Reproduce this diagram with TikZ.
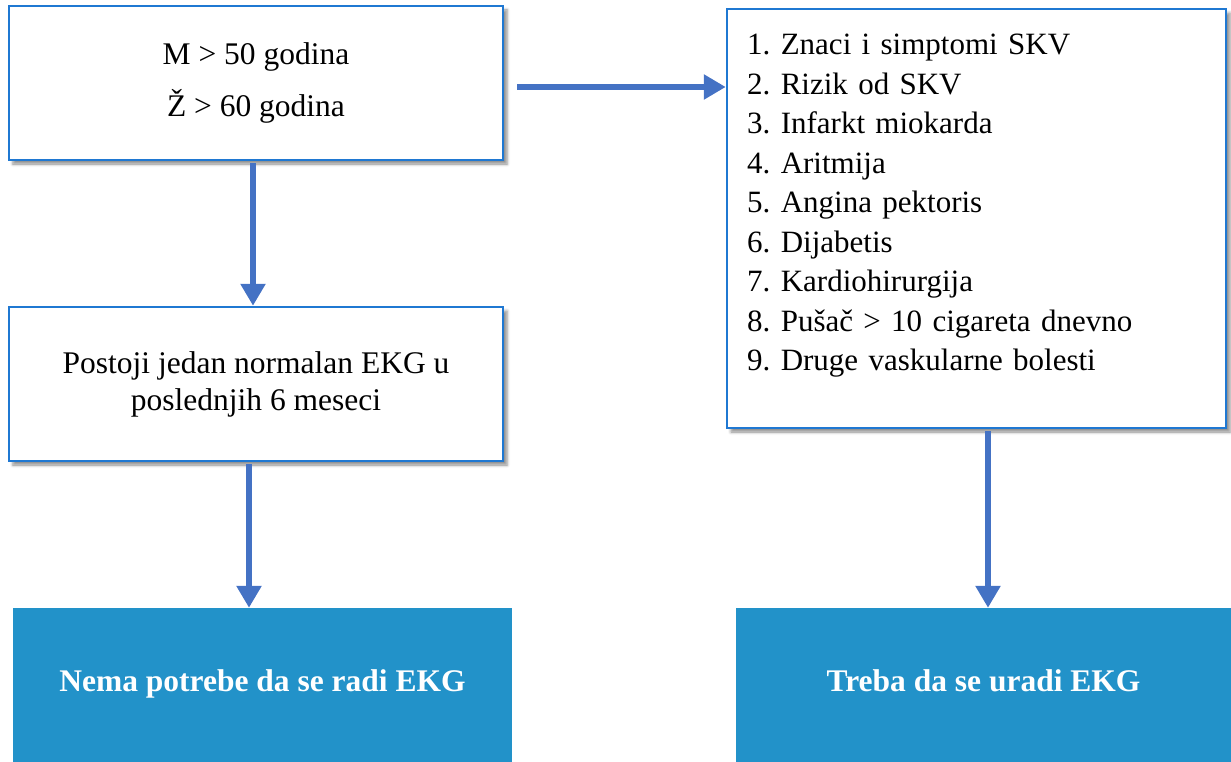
\documentclass[tikz,border=0pt]{standalone}
\usepackage{fontspec}
\setmainfont{Liberation Serif}
\usetikzlibrary{arrows.meta,shadows.blur}
\definecolor{boxline}{RGB}{31,120,210}
\definecolor{arrowblue}{RGB}{68,114,196}
\definecolor{tealfill}{RGB}{34,146,201}
\frenchspacing
\begin{document}
\begin{tikzpicture}[x=1pt,y=-1pt,
  wbox/.style={rectangle,draw=boxline,line width=2.5pt,fill=white,inner sep=0pt,
    blur shadow={shadow xshift=4pt,shadow yshift=-4pt,shadow blur radius=3pt,shadow opacity=45},
    font=\fontsize{31.5}{37}\selectfont,align=center},
  bbox/.style={rectangle,fill=tealfill,inner sep=0pt,text=white,
    font=\bfseries\fontsize{31.5}{37}\selectfont},
  arr/.style={draw=arrowblue,line width=6.5pt,-{Triangle[width=24pt,length=22pt]}}]
\useasboundingbox (0,0) rectangle (1231,762);

\node[wbox,minimum width=494pt,minimum height=154pt] (age) at (256,83)
  {M > 50 godina\\[15pt]Ž > 60 godina};
\node[wbox,minimum width=494pt,minimum height=154pt] (ekg) at (256,384)
  {Postoji jedan normalan EKG u\\poslednjih 6 meseci};
\node[wbox,minimum width=499pt,minimum height=419pt] (list) at (976.5,218.5) {};
\node[anchor=north west,inner sep=0pt,text width=470pt,align=left,
  font=\fontsize{31}{39.5}\selectfont] (items) at (747,34)
  {1. Znaci i simptomi SKV\\
   2. Rizik od SKV\\
   3. Infarkt miokarda\\
   4. Aritmija\\
   5. Angina pektoris\\
   6. Dijabetis\\
   7. Kardiohirurgija\\
   8. Pušač > 10 cigareta dnevno\\
   9. Druge vaskularne bolesti};

\node[bbox,minimum width=499pt,minimum height=154pt] (no) at (262.5,685)
  {\raisebox{8pt}{Nema potrebe da se radi EKG}};
\node[bbox,minimum width=495pt,minimum height=154pt] (yes) at (983.5,685)
  {\raisebox{8pt}{Treba da se uradi EKG}};

\draw[arr] ([xshift=-3pt,yshift=-2pt]age.south) -- ([xshift=-3pt]age.south |- ekg.north);
\draw[arr] ([xshift=-7pt,yshift=-2pt]ekg.south) -- ([xshift=-7pt]ekg.south |- no.north);
\draw[arr] ([xshift=13pt,yshift=-4pt]age.east) -- ([yshift=-4pt]age.east -| list.west);
\draw[arr] ([xshift=11.5pt,yshift=-2pt]list.south) -- ([xshift=11.5pt]list.south |- yes.north);
\end{tikzpicture}
\end{document}
